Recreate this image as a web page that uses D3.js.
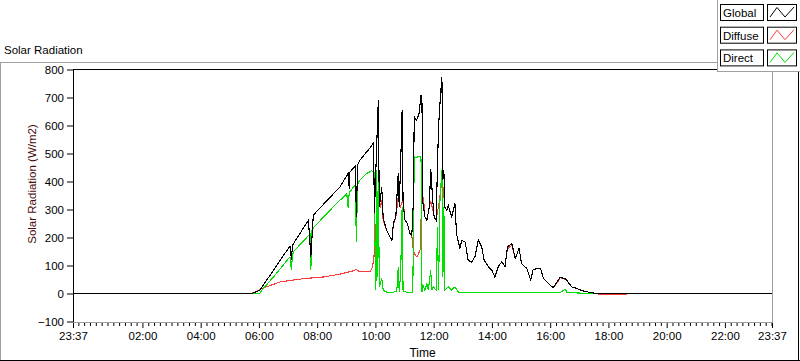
<!DOCTYPE html>
<html><head><meta charset="utf-8">
<script src="https://cdn.jsdelivr.net/npm/d3@7"></script>
<style>
html,body{margin:0;padding:0;background:#fff;}
svg{display:block;font-family:"Liberation Sans",Arial,sans-serif;}
</style></head>
<body>
<svg id="c" width="800" height="361"></svg>
<script>
// time in minutes after midnight (negative = previous day)
const globalTimes = [-23,345,362,390,424,427,429,462,467,472,527,544,546,547,558,561,563,568,592,596,598,603,606,608,613,616,623,630,634,637,642,647,649,652,655,657,661,666,671,675,678,680,685,690,694,696,697,702,706,711,714,718,721,725,730,733,737,739,741,743,747,750,757,764,767,774,778,785,791,798,805,812,819,824,833,840,846,853,860,867,872,881,888,896,901,912,920,925,940,946,956,966,977,980,991,997,1004,1015,1028,1042,1056,1417];
const globalValues = [0,0,12,83,170,119,172,262,131,280,381,429,375,432,455,274,458,476,527,541,287,547,692,309,380,270,226,202,190,250,274,429,309,464,655,321,262,250,214,208,321,631,619,643,708,679,333,274,262,309,446,333,274,262,595,679,774,405,440,309,297,315,274,321,214,161,190,184,119,112,131,190,166,119,95,83,59,95,113,97,166,179,125,161,107,89,48,86,90,54,36,21,48,57,54,41,24,18,9,4,0,0];

const diffuseTimes = [345,362,376,403,438,458,493,527,554,560,568,589,594,597,601,604,610,613,616,623,630,634,637,642,647,651,654,657,661,666,671,675,678,682,686,692,695,699,702,706,711,714,718,721,725,732,737,740,743,747,750,757,764,767,774,778,785,791,798,805,812,819,824,833,840,846,853,860,867,872,881,888,896,901,912,920,925,940,946,956,966,977,980,991,997,1004,1015,1028,1042,1056,1062,1118];
const diffuseValues = [0,14,24,41,50,54,59,69,81,86,77,77,95,131,238,321,309,333,262,226,202,190,245,270,345,309,321,333,262,250,214,208,155,137,131,155,321,345,274,262,309,330,300,274,262,333,405,369,309,297,315,274,321,214,161,190,184,119,112,131,190,166,119,95,83,59,95,113,97,160,172,125,161,107,89,48,86,90,54,36,21,44,57,50,41,24,18,9,4,0,-3,-3];

const directTimes = [345,362,366,390,424,427,429,431,466,467,469,474,513,541,544,546,558,561,563,568,582,592,597,598,601,603,604,606,608,610,613,616,623,637,644,647,649,652,655,657,664,675,677,680,685,692,694,696,699,702,706,709,714,716,719,725,728,730,733,737,739,741,743,750,757,764,771,795,815,898,980,991,995,1053];
const directValues = [0,0,12,59,131,83,135,149,214,83,225,238,309,357,304,360,387,184,390,405,429,438,434,286,12,440,59,440,24,36,54,12,5,5,7,95,7,71,309,7,5,2,5,488,486,491,480,7,24,12,36,12,83,12,24,12,238,12,333,440,59,309,12,24,12,24,5,2,3,2,2,15,3,0];

const yTicks = [-100,0,100,200,300,400,500,600,700,800];
const xTickTimes = [-23,120,240,360,480,600,720,840,960,1080,1200,1320,1417];
const xTickLabels = ["23:37","02:00","04:00","06:00","08:00","10:00","12:00","14:00","16:00","18:00","20:00","22:00","23:37"];
const legendNames = ["Global","Diffuse","Direct"];
const colors = {Global:"#000000", Diffuse:"#ff3a3a", Direct:"#00e000"};

const svg = d3.select("#c");
const L=73, R=772, T=69.5, B=321.5;
const x = d3.scaleLinear().domain([-23,1417]).range([L,R]);
const y = d3.scaleLinear().domain([-100,800]).range([B,T]);

// outer panel frame
svg.append("line").attr("x1",0).attr("x2",800).attr("y1",62.5).attr("y2",62.5).attr("stroke","#a0a0a0");
svg.append("line").attr("x1",0.5).attr("x2",0.5).attr("y1",62).attr("y2",361).attr("stroke","#a0a0a0");
svg.append("line").attr("x1",0).attr("x2",800).attr("y1",360.5).attr("y2",360.5).attr("stroke","#000");
svg.append("line").attr("x1",798.5).attr("x2",798.5).attr("y1",62).attr("y2",361).attr("stroke","#000");

svg.append("text").attr("x",4).attr("y",54).attr("font-size","11.5px").attr("fill","#000").text("Solar Radiation");

// series
const g = svg.append("g");
const line = d3.line().x(d=>x(d[0])).y(d=>y(d[1]));
const series = [
  {name:"Diffuse", data:d3.zip(diffuseTimes,diffuseValues)},
  {name:"Direct", data:d3.zip(directTimes,directValues)},
  {name:"Global", data:d3.zip(globalTimes,globalValues)}
];
g.selectAll("path.s").data(series).join("path").attr("class","s")
  .attr("d",d=>line(d.data)).attr("fill","none")
  .attr("stroke",d=>colors[d.name]).attr("stroke-width",1.1)
  .attr("shape-rendering","crispEdges");

// plot frame
svg.append("line").attr("x1",L).attr("x2",R+0.5).attr("y1",69.5).attr("y2",69.5).attr("stroke","#000");
svg.append("line").attr("x1",L+0.5).attr("x2",L+0.5).attr("y1",69).attr("y2",322.5).attr("stroke","#000");
svg.append("line").attr("x1",R+0.5).attr("x2",R+0.5).attr("y1",70).attr("y2",322.5).attr("stroke","#a0a0a0");
svg.append("line").attr("x1",L+1).attr("x2",R+1).attr("y1",322.5).attr("y2",322.5).attr("stroke","#a0a0a0");

// y axis
const ya = svg.append("g").attr("transform",`translate(${L},0)`)
  .call(d3.axisLeft(y).tickValues(yTicks).tickSize(6).tickPadding(3));
ya.select(".domain").remove();
ya.selectAll("text").attr("font-size","11.5px").attr("fill","#000").attr("font-family","Liberation Sans, Arial, sans-serif");
ya.selectAll("line").attr("stroke","#000");

// x axis minor
const minor = d3.range(-12,1417,12).filter(t=>!xTickTimes.includes(t));
const xm = svg.append("g").attr("transform","translate(0,323)")
  .call(d3.axisBottom(x).tickValues(minor).tickSize(3).tickFormat(""));
xm.select(".domain").remove();
xm.selectAll("line").attr("stroke","#000");
const xa = svg.append("g").attr("transform","translate(0,323)")
  .call(d3.axisBottom(x).tickValues(xTickTimes).tickSize(5).tickPadding(4)
    .tickFormat((d,i)=>xTickLabels[i]));
xa.select(".domain").remove();
xa.selectAll("line").attr("stroke","#000");
xa.selectAll("text").attr("font-size","11.5px").attr("fill","#000").attr("font-family","Liberation Sans, Arial, sans-serif");

svg.append("text").attr("x",(L+R)/2).attr("y",357).attr("text-anchor","middle")
  .attr("font-size","12px").attr("fill","#000").text("Time");
svg.append("text").attr("transform","translate(36,184) rotate(-90)").attr("text-anchor","middle")
  .attr("font-size","11.5px").attr("fill","#4a0a0a").text("Solar Radiation (W/m2)");

// legend
const lg = svg.append("g");
lg.append("rect").attr("x",717).attr("y",0).attr("width",83).attr("height",72).attr("fill","#fff");
lg.append("line").attr("x1",717.5).attr("x2",717.5).attr("y1",0).attr("y2",72).attr("stroke","#a0a0a0");
lg.append("line").attr("x1",717).attr("x2",800).attr("y1",71.5).attr("y2",71.5).attr("stroke","#a0a0a0");
legendNames.forEach((n,i)=>{
  const y0 = 4.5 + i*22.7;
  lg.append("rect").attr("x",720.5).attr("y",y0).attr("width",43).attr("height",16).attr("fill","#fff").attr("stroke","#000");
  lg.append("text").attr("x",723).attr("y",y0+12.5).attr("font-size","11.5px").attr("fill","#000").text(n);
  lg.append("rect").attr("x",767.5).attr("y",y0).attr("width",29).attr("height",16).attr("fill","#fff").attr("stroke","#000");
  const pts = [[770,y0+12.5],[777,y0+3],[785,y0+12.5],[794,y0+2.5]];
  lg.append("polyline").attr("points",pts.map(p=>p.join(",")).join(" ")).attr("fill","none").attr("stroke",colors[n]);
});
</script>
</body></html>
